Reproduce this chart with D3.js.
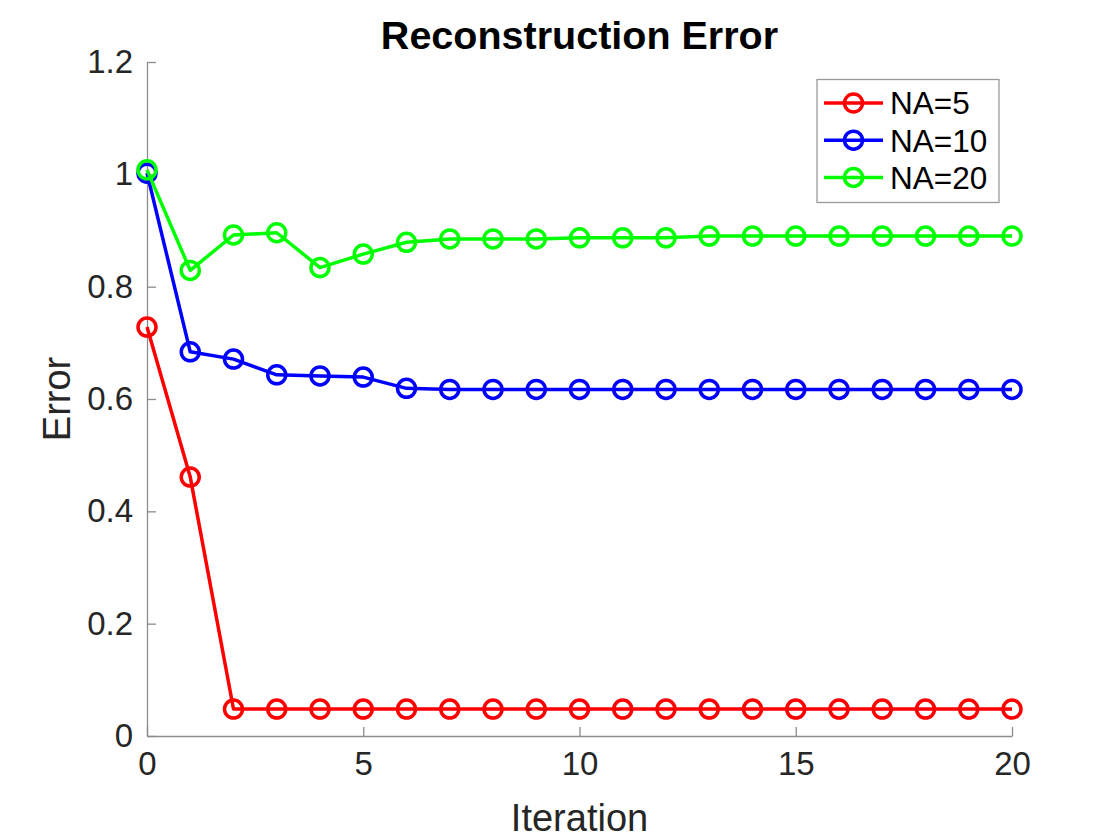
<!DOCTYPE html>
<html>
<head>
<meta charset="utf-8">
<script src="https://cdn.jsdelivr.net/npm/d3@7"></script>
<style>
  body { margin: 0; background: #fff; }
  text { font-family: "Liberation Sans", Arial, Helvetica, sans-serif; fill: #262626; }
</style>
</head>
<body>
<script>
const iterations = d3.range(0, 21);
const errNA5 = [0.728, 0.461, 0.048, 0.048, 0.048, 0.048, 0.048, 0.048, 0.048, 0.048, 0.048,
  0.048, 0.048, 0.048, 0.048, 0.048, 0.048, 0.048, 0.048, 0.048, 0.048];
const errNA10 = [1.002, 0.684, 0.671, 0.643, 0.641, 0.639, 0.619, 0.617, 0.617, 0.617, 0.617,
  0.617, 0.617, 0.617, 0.617, 0.617, 0.617, 0.617, 0.617, 0.617, 0.617];
const errNA20 = [1.008, 0.829, 0.892, 0.896, 0.834, 0.858, 0.879, 0.885, 0.885, 0.885, 0.887,
  0.887, 0.887, 0.890, 0.890, 0.890, 0.890, 0.890, 0.890, 0.890, 0.890];
const seriesNames = ['NA=5', 'NA=10', 'NA=20'];
const seriesColors = ['#ff0000', '#0000ff', '#00ff00'];
const xTicks = [0, 5, 10, 15, 20];
const yTicks = [0, 0.2, 0.4, 0.6, 0.8, 1, 1.2];

const width = 1120, height = 840;
const plotLeft = 147, plotRight = 1012, plotTop = 62, plotBottom = 736;

const x = d3.scaleLinear().domain([0, 20]).range([plotLeft, plotRight]);
const y = d3.scaleLinear().domain([0, 1.2]).range([plotBottom, plotTop]);

const svg = d3.select('body').append('svg')
  .attr('width', width)
  .attr('height', height);

// axes (MATLAB style, ticks pointing inward, box off)
const xAxis = svg.append('g')
  .attr('transform', 'translate(0,' + plotBottom + ')')
  .call(d3.axisBottom(x).tickValues(xTicks).tickSizeInner(-9).tickSizeOuter(0).tickPadding(16).tickFormat(d3.format('d')));
const yAxis = svg.append('g')
  .attr('transform', 'translate(' + plotLeft + ',0)')
  .call(d3.axisLeft(y).tickValues(yTicks).tickSizeInner(-9).tickSizeOuter(0).tickPadding(14).tickFormat(d => d3.format('')(d)));

[xAxis, yAxis].forEach(function (g) {
  g.select('.domain').attr('stroke', '#8c8c8c').attr('stroke-width', 1.3);
  g.selectAll('.tick line').attr('stroke', '#8c8c8c').attr('stroke-width', 1.3);
  g.selectAll('.tick text')
    .attr('font-size', 33)
    .attr('fill', '#262626')
    .attr('font-family', '"Liberation Sans", Arial, sans-serif');
});
xAxis.selectAll('.tick text').attr('dy', '0.71em');

const all = [errNA5, errNA10, errNA20];
const line = d3.line().x((d, i) => x(iterations[i])).y(d => y(d));

all.forEach(function (vals, k) {
  const g = svg.append('g');
  g.append('path')
    .datum(vals)
    .attr('d', line)
    .attr('fill', 'none')
    .attr('stroke', seriesColors[k])
    .attr('stroke-width', 3.5)
    .attr('stroke-linejoin', 'round');
  g.selectAll('circle')
    .data(vals)
    .enter()
    .append('circle')
    .attr('cx', (d, i) => x(iterations[i]))
    .attr('cy', d => y(d))
    .attr('r', 9)
    .attr('fill', 'none')
    .attr('stroke', seriesColors[k])
    .attr('stroke-width', 3.5);
});

// labels
svg.append('text')
  .attr('x', (plotLeft + plotRight) / 2)
  .attr('y', 49)
  .attr('text-anchor', 'middle')
  .attr('font-size', 39.5)
  .attr('font-weight', 'bold')
  .style('fill', '#000')
  .text('Reconstruction Error');

svg.append('text')
  .attr('x', (plotLeft + plotRight) / 2)
  .attr('y', 831)
  .attr('text-anchor', 'middle')
  .attr('font-size', 38)
  .text('Iteration');

svg.append('text')
  .attr('transform', 'translate(70,' + (plotTop + plotBottom) / 2 + ') rotate(-90)')
  .attr('text-anchor', 'middle')
  .attr('font-size', 38)
  .text('Error');

// legend
const legend = svg.append('g');
legend.append('rect')
  .attr('x', 817)
  .attr('y', 79.5)
  .attr('width', 182)
  .attr('height', 123)
  .attr('fill', '#fff')
  .attr('stroke', '#9a9a9a')
  .attr('stroke-width', 1.3);

seriesNames.forEach(function (name, k) {
  const ly = 103 + k * 37.2;
  const item = legend.append('g');
  item.append('line')
    .attr('x1', 824).attr('x2', 883)
    .attr('y1', ly).attr('y2', ly)
    .attr('stroke', seriesColors[k])
    .attr('stroke-width', 3.5);
  item.append('circle')
    .attr('cx', 853.5).attr('cy', ly)
    .attr('r', 9)
    .attr('fill', 'none')
    .attr('stroke', seriesColors[k])
    .attr('stroke-width', 3.5);
  item.append('text')
    .attr('x', 890)
    .attr('y', ly)
    .attr('dy', '0.36em')
    .attr('font-size', 31.5)
    .style('fill', '#000')
    .text(name);
});
</script>
</body>
</html>
